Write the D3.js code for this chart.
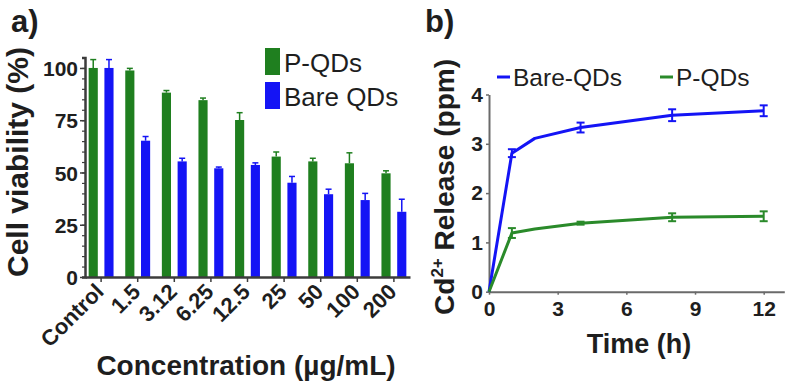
<!DOCTYPE html>
<html><head><meta charset="utf-8">
<script src="https://cdn.jsdelivr.net/npm/d3@7"></script>
<style>body{margin:0;background:#fff} svg{display:block;font-family:"Liberation Sans",Arial,sans-serif}</style>
</head><body><svg id="c" width="792" height="385"></svg>
<script>
// ---- Panel a data ----
const categories = ["Control","1.5","3.12","6.25","12.5","25","50","100","200"];
const seriesNames = ["P-QDs","Bare QDs"];
const pqdsViability = [100,98.8,88.2,84.6,75.1,57.6,55.3,54.4,49.6];
const pqdsError = [4,1,1,1,3.5,2.2,1.5,5,1.2];
const bareViability = [100,65.2,55.3,52,53.6,45.1,39.6,36.8,31.2];
const bareError = [4,2,1.5,0.6,1,3,2.4,3.2,6];
const viabilityTicks = [0,25,50,75,100];
// ---- Panel b data ----
const timeHours = [0,1,2,4,8,12];
const bareRelease = [0,2.81,3.11,3.33,3.58,3.67];
const bareReleaseErr = [0,0.08,0,0.1,0.12,0.11];
const pqdsRelease = [0,1.19,1.27,1.39,1.51,1.53];
const pqdsReleaseErr = [0,0.1,0,0.03,0.08,0.1];
const timeTicks = [0,3,6,9,12];
const releaseTicks = [0,1,2,3,4];

const GREEN = "#1f7f1f", BLUE = "#1414f5", TXT = "#1e1e1e", AX = "#3c3c3c";
const svg = d3.select("#c");

// ================= Panel a =================
const x0 = d3.scaleBand().domain(categories).range([85, 410]).paddingInner(0.32).paddingOuter(0.1);
const x1 = d3.scaleBand().domain(seriesNames).range([0, x0.bandwidth()]).paddingInner(0.42);
const yA = d3.scaleLinear().domain([0, 105]).range([277, 57.5]);
const colA = {"P-QDs": GREEN, "Bare QDs": BLUE};
const barData = categories.map((c, i) => ({c, vals: [
  {s: "P-QDs", v: pqdsViability[i], e: pqdsError[i]},
  {s: "Bare QDs", v: bareViability[i], e: bareError[i]}]}));

const gA = svg.append("g");
const groups = gA.selectAll("g.grp").data(barData).join("g")
  .attr("transform", d => `translate(${x0(d.c)},0)`);
groups.selectAll("line.err").data(d => d.vals).join("line")
  .attr("x1", d => x1(d.s) + x1.bandwidth()/2).attr("x2", d => x1(d.s) + x1.bandwidth()/2)
  .attr("y1", d => yA(d.v)).attr("y2", d => yA(d.v + d.e))
  .attr("stroke", d => colA[d.s]).attr("stroke-width", 1.5);
groups.selectAll("line.cap").data(d => d.vals).join("line")
  .attr("x1", d => x1(d.s) + x1.bandwidth()/2 - 3).attr("x2", d => x1(d.s) + x1.bandwidth()/2 + 3)
  .attr("y1", d => yA(d.v + d.e)).attr("y2", d => yA(d.v + d.e))
  .attr("stroke", d => colA[d.s]).attr("stroke-width", 1.5);
groups.selectAll("rect").data(d => d.vals).join("rect")
  .attr("x", d => x1(d.s)).attr("width", x1.bandwidth())
  .attr("y", d => yA(d.v)).attr("height", d => yA(0) - yA(d.v))
  .attr("fill", d => colA[d.s]);

// y axis with minor ticks
const yAxA = gA.append("g").attr("transform", "translate(85,0)")
  .call(d3.axisLeft(yA).tickValues(d3.range(0, 101, 5)).tickSize(3).tickFormat(""));
yAxA.selectAll("line").attr("stroke", AX).attr("stroke-width", 1.2);
yAxA.select(".domain").attr("stroke", AX).attr("stroke-width", 2.5);
const yAxA2 = gA.append("g").attr("transform", "translate(85,0)")
  .call(d3.axisLeft(yA).tickValues(viabilityTicks).tickSize(5).tickPadding(2));
yAxA2.select(".domain").remove();
yAxA2.selectAll("line").attr("stroke", AX).attr("stroke-width", 1.5);
yAxA2.selectAll("text").attr("font-size", 21).attr("font-weight", "bold").attr("fill", TXT)
  .attr("font-family", '"Liberation Sans",Arial,sans-serif').attr("dy", "0.36em");

// x axis
const xAxA = gA.append("g").attr("transform", "translate(0,277)")
  .call(d3.axisBottom(x0).tickSize(5).tickSizeOuter(0).tickFormat(""));
xAxA.select(".domain").attr("stroke", AX).attr("stroke-width", 2.5);
xAxA.selectAll("line").attr("stroke", AX).attr("stroke-width", 1.5);
gA.append("g").selectAll("text").data(categories).join("text")
  .attr("transform", d => `translate(${x0(d) + x0.bandwidth()/2 + 4},293) rotate(-45)`)
  .attr("text-anchor", "end").attr("font-size", 22).attr("font-weight", "bold").attr("fill", TXT)
  .text(d => d);

// titles
gA.append("text").attr("transform", "translate(28,162) rotate(-90)").attr("text-anchor", "middle")
  .attr("font-size", 30).attr("font-weight", "bold").attr("fill", TXT).text("Cell viability (%)");
gA.append("text").attr("x", 246).attr("y", 375).attr("text-anchor", "middle")
  .attr("font-size", 28).attr("font-weight", "bold").attr("fill", TXT).text("Concentration (µg/mL)");
gA.append("text").attr("x", 11).attr("y", 32).attr("font-size", 31).attr("font-weight", "bold")
  .attr("fill", TXT).text("a)");

// legend a
const legA = gA.append("g").selectAll("g").data(seriesNames).join("g")
  .attr("transform", (d, i) => `translate(265,${48 + i * 34})`);
legA.append("rect").attr("width", 15).attr("height", 27).attr("fill", d => colA[d]);
legA.append("text").attr("x", 19).attr("y", 24).attr("font-size", 26).attr("fill", TXT).text(d => d);

// ================= Panel b =================
const gB = svg.append("g");
const xB = d3.scaleLinear().domain([0, 12.9]).range([489, 784.3]);
const yB = d3.scaleLinear().domain([0, 4]).range([291.7, 94.5]);
const AXB = "#6a6a6a";

const xAxB = gB.append("g").attr("transform", "translate(0,291.7)")
  .call(d3.axisBottom(xB).tickValues(timeTicks).tickFormat(d3.format("d")).tickSize(3).tickSizeOuter(0).tickPadding(6));
xAxB.select(".domain").attr("stroke", AXB).attr("stroke-width", 2);
xAxB.selectAll("line").attr("stroke", AXB).attr("stroke-width", 1.5);
xAxB.selectAll("text").attr("font-size", 21).attr("font-weight", "bold").attr("fill", TXT)
  .attr("font-family", '"Liberation Sans",Arial,sans-serif');
const yAxB = gB.append("g").attr("transform", "translate(489,0)")
  .call(d3.axisLeft(yB).tickValues(releaseTicks).tickFormat(d3.format("d")).tickSize(3).tickSizeOuter(0).tickPadding(3));
yAxB.select(".domain").attr("stroke", AXB).attr("stroke-width", 2);
yAxB.selectAll("line").attr("stroke", AXB).attr("stroke-width", 1.5);
yAxB.selectAll("text").attr("font-size", 21).attr("font-weight", "bold").attr("fill", TXT)
  .attr("font-family", '"Liberation Sans",Arial,sans-serif');

const lineSeries = [
  {name: "Bare-QDs", color: BLUE, vals: bareRelease, err: bareReleaseErr},
  {name: "P-QDs", color: "#2a8a2a", vals: pqdsRelease, err: pqdsReleaseErr}
];
const line = d3.line().x(d => xB(d.t)).y(d => yB(d.v));
lineSeries.forEach(s => {
  const pts = timeHours.map((t, i) => ({t, v: s.vals[i], e: s.err[i]}));
  gB.append("path").datum(pts).attr("d", line).attr("fill", "none")
    .attr("stroke", s.color).attr("stroke-width", 3).attr("stroke-linejoin", "round");
  const eb = gB.append("g").selectAll("g").data(pts.filter(p => p.e > 0)).join("g");
  eb.append("line").attr("x1", d => xB(d.t)).attr("x2", d => xB(d.t))
    .attr("y1", d => yB(d.v - d.e)).attr("y2", d => yB(d.v + d.e))
    .attr("stroke", s.color).attr("stroke-width", 2);
  [-1, 1].forEach(sg => eb.append("line")
    .attr("x1", d => xB(d.t) - 4).attr("x2", d => xB(d.t) + 4)
    .attr("y1", d => yB(d.v + sg * d.e)).attr("y2", d => yB(d.v + sg * d.e))
    .attr("stroke", s.color).attr("stroke-width", 2));
});

// legend b
const legBx = [497, 660];
const legB = gB.append("g").selectAll("g").data(lineSeries).join("g")
  .attr("transform", (d, i) => `translate(${legBx[i]},77)`);
legB.append("line").attr("x1", 0).attr("x2", 13).attr("stroke", d => d.color).attr("stroke-width", 3);
legB.append("text").attr("x", 16).attr("y", 8.5).attr("font-size", 24.5).attr("fill", TXT).text(d => d.name);

// titles b
const yt = gB.append("text").attr("transform", "translate(454,187) rotate(-90)").attr("text-anchor", "middle")
  .attr("font-size", 28).attr("font-weight", "bold").attr("fill", TXT);
yt.append("tspan").text("Cd");
yt.append("tspan").attr("font-size", 17).attr("dy", -11).text("2+");
yt.append("tspan").attr("dy", 11).text(" Release (ppm)");
gB.append("text").attr("x", 639).attr("y", 353).attr("text-anchor", "middle")
  .attr("font-size", 27).attr("font-weight", "bold").attr("fill", TXT).text("Time (h)");
gB.append("text").attr("x", 425).attr("y", 32).attr("font-size", 31).attr("font-weight", "bold")
  .attr("fill", TXT).text("b)");
</script></body></html>
